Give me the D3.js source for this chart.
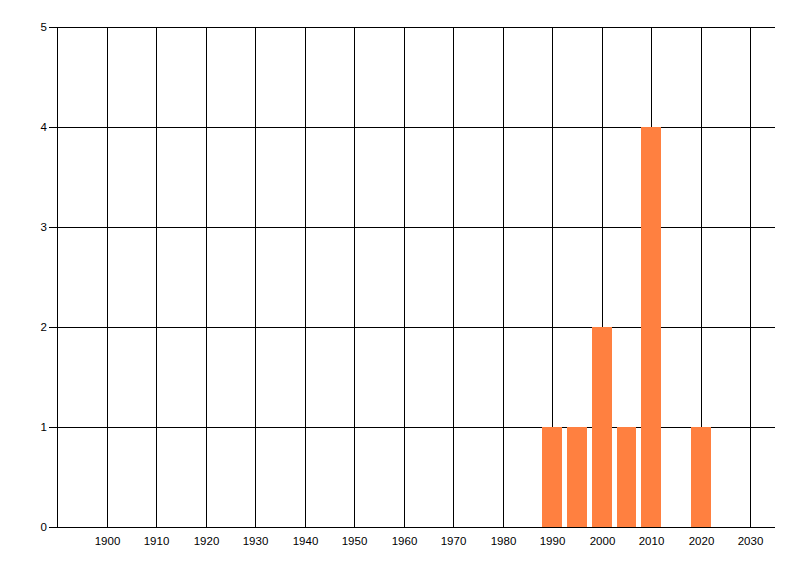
<!DOCTYPE html>
<html>
<head>
<meta charset="utf-8">
<script src="https://cdn.jsdelivr.net/npm/d3@7"></script>
<style>
  body { margin: 0; background: #fff; }
  text { font-family: 'Liberation Sans', Arial, sans-serif; font-size: 11.5px; fill: #000; }
</style>
</head>
<body>
<div id="chart"></div>
<script>
// counts per year
const years = [1990, 1995, 2000, 2005, 2010, 2020]
const counts = [1, 1, 2, 1, 4, 1]
const xTicks = [1900, 1910, 1920, 1930, 1940, 1950, 1960, 1970, 1980, 1990, 2000, 2010, 2020, 2030]
const yTicks = [0, 1, 2, 3, 4, 5]

const margin = { top: 27, right: 25, bottom: 49, left: 57 }
const width = 800 - margin.left - margin.right
const height = 576 - margin.top - margin.bottom

const xScale = d3.scaleLinear().domain([1890, 2035]).range([0, width])
const yScale = d3.scaleLinear().domain([0, 5]).range([height, 0])

const svg = d3.select('#chart').append('svg')
  .attr('width', 800)
  .attr('height', 576)
  .append('g')
  .attr('transform', 'translate(' + margin.left + ',' + margin.top + ')')

// vertical grid (incl. left edge)
svg.selectAll('.vgrid')
  .data([1890].concat(xTicks))
  .enter().append('line')
  .attr('x1', d => Math.round(xScale(d)) + 0.5)
  .attr('x2', d => Math.round(xScale(d)) + 0.5)
  .attr('y1', 0)
  .attr('y2', height)
  .attr('stroke', '#000')

// horizontal grid with little ticks out to the left
svg.selectAll('.hgrid')
  .data(yTicks)
  .enter().append('line')
  .attr('x1', -8)
  .attr('x2', width)
  .attr('y1', d => Math.round(yScale(d)) + 0.5)
  .attr('y2', d => Math.round(yScale(d)) + 0.5)
  .attr('stroke', '#000')

// y labels
svg.selectAll('.ylab')
  .data(yTicks)
  .enter().append('text')
  .attr('x', -10)
  .attr('y', d => yScale(d))
  .attr('dy', '0.35em')
  .attr('text-anchor', 'end')
  .text(d => d)

// x labels
svg.selectAll('.xlab')
  .data(xTicks)
  .enter().append('text')
  .attr('x', d => Math.round(xScale(d)) + 0.5)
  .attr('y', height + 18)
  .attr('text-anchor', 'middle')
  .text(d => d)

// bars, 4 years wide, centred on the year
svg.selectAll('.bar')
  .data(years.map((y, i) => ({ year: y, count: counts[i] })))
  .enter().append('rect')
  .attr('x', d => Math.round(xScale(d.year - 2)))
  .attr('y', d => Math.round(yScale(d.count)))
  .attr('width', d => Math.round(xScale(d.year + 2)) - Math.round(xScale(d.year - 2)))
  .attr('height', d => Math.round(yScale(0)) - Math.round(yScale(d.count)))
  .attr('fill', '#ff8040')
</script>
</body>
</html>
